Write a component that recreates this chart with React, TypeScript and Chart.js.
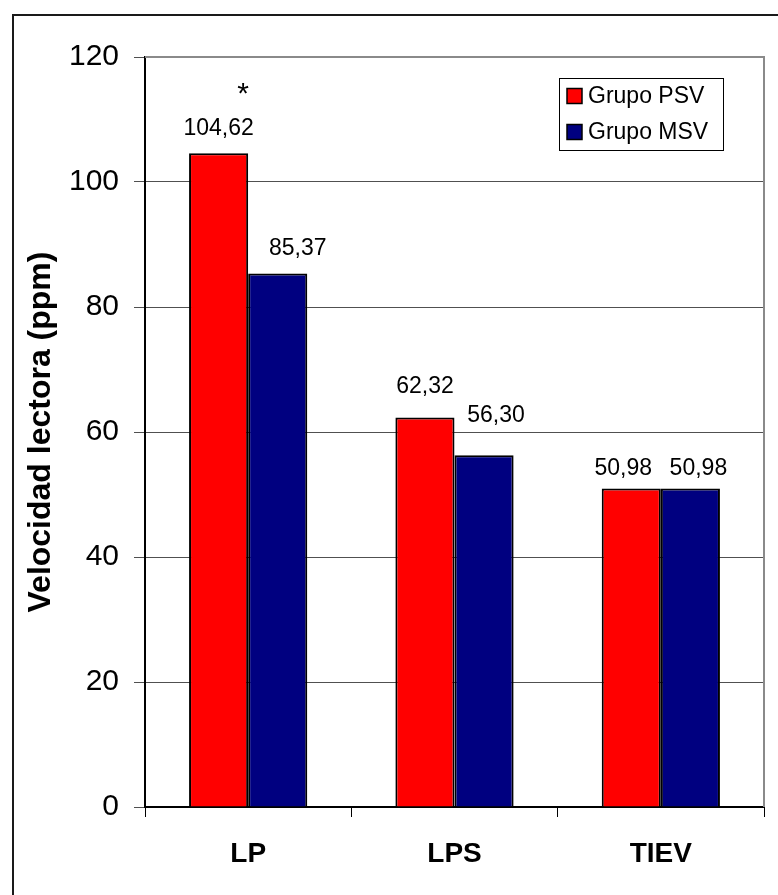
import { useEffect, useRef } from "react";
import { Chart, registerables } from "chart.js";

Chart.register(...registerables);

// Reading speed per task for the two groups
const categories = ["LP", "LPS", "TIEV"];
const psvValues = [104.62, 62.32, 50.98];
const msvValues = [85.37, 56.3, 50.98];
const seriesNames = ["Grupo PSV", "Grupo MSV"];
const seriesColors = ["#FF0000", "#000080"];
const yTicks = [0, 20, 40, 60, 80, 100, 120];
const significance = ["*", "", ""];
const axisTitle = "Velocidad lectora (ppm)";

const FONT = "'Liberation Sans', Arial, Helvetica, sans-serif";

const fmt = (v: number) => v.toFixed(2).replace(".", ",");

// label placement tweaks per series: [lift above bar top, horizontal shift]
const labelLift = [
  [18, 25, 13],
  [18, 33, 13],
];
const labelShift = [
  [0, 0, -8],
  [20, 12, 8],
];

const decorations = {
  id: "decorations",
  beforeDraw(chart: any) {
    const { ctx, width, height } = chart;
    ctx.save();
    ctx.fillStyle = "#ffffff";
    ctx.fillRect(0, 0, width, height);
    // outer frame
    ctx.strokeStyle = "#1a1a1a";
    ctx.lineWidth = 2;
    ctx.beginPath();
    ctx.moveTo(13, height + 2);
    ctx.lineTo(13, 15);
    ctx.lineTo(width + 2, 15);
    ctx.stroke();
    ctx.restore();
  },
  afterDatasetsDraw(chart: any) {
    const { ctx, chartArea } = chart;
    const y = chart.scales.y;
    ctx.save();

    // plot area border (top/right)
    ctx.strokeStyle = "#8a8a8a";
    ctx.lineWidth = 2;
    ctx.beginPath();
    ctx.moveTo(chartArea.left, chartArea.top);
    ctx.lineTo(chartArea.right, chartArea.top);
    ctx.lineTo(chartArea.right, chartArea.bottom);
    ctx.stroke();

    // value labels
    ctx.fillStyle = "#000";
    ctx.font = `23px ${FONT}`;
    ctx.textAlign = "center";
    ctx.textBaseline = "alphabetic";
    chart.data.datasets.forEach((ds: any, di: number) => {
      const meta = chart.getDatasetMeta(di);
      meta.data.forEach((bar: any, i: number) => {
        const v = ds.data[i];
        ctx.fillText(fmt(v), bar.x + labelShift[di][i], y.getPixelForValue(v) - labelLift[di][i]);
      });
    });

    // significance marks
    const m0 = chart.getDatasetMeta(0);
    ctx.font = `30px ${FONT}`;
    significance.forEach((s, i) => {
      if (!s) return;
      const bar: any = m0.data[i];
      ctx.fillText(s, bar.x + bar.width / 2 - 5, y.getPixelForValue(psvValues[i]) - 50);
    });

    // legend
    const lx = 559.5, ly = 78.5, lw = 164, lh = 72;
    ctx.fillStyle = "#fff";
    ctx.fillRect(lx, ly, lw, lh);
    ctx.strokeStyle = "#000";
    ctx.lineWidth = 1;
    ctx.strokeRect(lx, ly, lw, lh);
    ctx.font = `23px ${FONT}`;
    ctx.textAlign = "left";
    ctx.textBaseline = "middle";
    seriesNames.forEach((name, i) => {
      const cy = 96 + i * 36;
      ctx.fillStyle = seriesColors[i];
      ctx.fillRect(567, cy - 7.5, 15, 15);
      ctx.strokeStyle = "#000";
      ctx.lineWidth = 1.5;
      ctx.strokeRect(567, cy - 7.5, 15, 15);
      ctx.fillStyle = "#000";
      ctx.fillText(name, 588, cy + 1);
    });

    // y axis title
    ctx.save();
    ctx.translate(41, (chartArea.top + chartArea.bottom) / 2);
    ctx.rotate(-Math.PI / 2);
    ctx.font = `bold 32px ${FONT}`;
    ctx.textAlign = "center";
    ctx.textBaseline = "middle";
    ctx.fillText(axisTitle, 0, 0);
    ctx.restore();

    ctx.restore();
  },
};

export default function App() {
  const ref = useRef<HTMLCanvasElement | null>(null);

  useEffect(() => {
    document.body.style.margin = "0";
    const canvas = ref.current!;
    const chart = new Chart(canvas, {
      type: "bar",
      data: {
        labels: categories,
        datasets: [
          {
            label: seriesNames[0],
            data: psvValues,
            backgroundColor: seriesColors[0],
            borderColor: "#000",
            borderWidth: 2,
          },
          {
            label: seriesNames[1],
            data: msvValues,
            backgroundColor: seriesColors[1],
            borderColor: "#000",
            borderWidth: 2,
          },
        ],
      },
      options: {
        responsive: false,
        animation: false,
        devicePixelRatio: 1,
        layout: { padding: { top: 57, right: 14, left: 0, bottom: 0 } },
        datasets: { bar: { categoryPercentage: 0.573, barPercentage: 1 } },
        plugins: {
          legend: { display: false },
          tooltip: { enabled: false },
        },
        scales: {
          x: {
            afterFit: (s: any) => {
              s.height = 88;
            },
            grid: {
              offset: true,
              drawOnChartArea: false,
              drawTicks: true,
              tickLength: 10,
              color: "#000",
              tickColor: "#000",
            },
            border: { display: true, color: "#000", width: 2 },
            ticks: {
              color: "#000",
              padding: 20,
              font: { family: FONT, size: 28, weight: "bold" },
            },
          },
          y: {
            min: 0,
            max: 120,
            afterFit: (s: any) => {
              s.width = 145;
            },
            afterBuildTicks: (s: any) => {
              s.ticks = yTicks.map((v) => ({ value: v }));
            },
            grid: {
              color: "#505050",
              tickColor: "#505050",
              lineWidth: 1,
              tickLength: 11,
            },
            border: { display: true, color: "#000", width: 2 },
            ticks: {
              color: "#000",
              padding: 15,
              font: { family: FONT, size: 30 },
            },
          },
        },
      },
      plugins: [decorations],
    });
    return () => chart.destroy();
  }, []);

  return (
    <canvas
      ref={ref}
      width={778}
      height={895}
      style={{ display: "block", width: 778, height: 895 }}
    />
  );
}
